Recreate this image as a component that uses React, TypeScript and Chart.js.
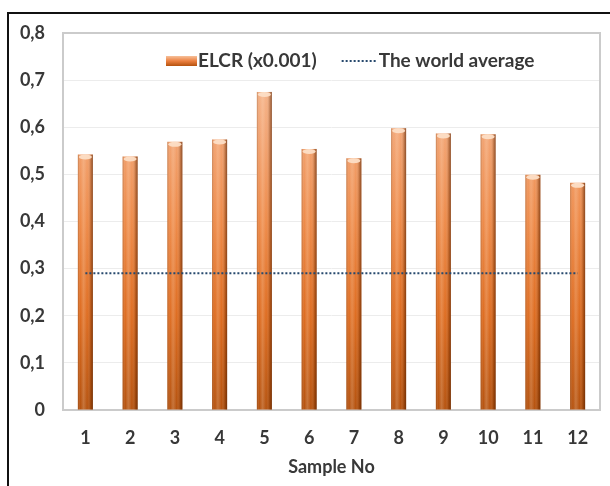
import React, { useEffect, useRef } from 'react';
import { Chart, registerables } from 'chart.js';

Chart.register(...registerables);

// Sample numbers along the x axis
const sampleNos = ['1', '2', '3', '4', '5', '6', '7', '8', '9', '10', '11', '12'];

// Excess lifetime cancer risk per sample (x0.001)
const elcrValues = [0.542, 0.538, 0.569, 0.574, 0.675, 0.554, 0.534, 0.598, 0.587, 0.585, 0.499, 0.482];

// World average ELCR (x0.001), one point per sample
const worldAverageValues = [0.29, 0.29, 0.29, 0.29, 0.29, 0.29, 0.29, 0.29, 0.29, 0.29, 0.29, 0.29];

// Y axis tick labels (comma decimal separator)
const yTickLabels = ['0', '0,1', '0,2', '0,3', '0,4', '0,5', '0,6', '0,7', '0,8'];

const seriesLabels = ['ELCR (x0.001)', 'The world average'];
const axisTitle = 'Sample No';

const FONT = 'Lato, "Open Sans", sans-serif';
const TEXT_COLOR = '#383838';
const LINE_COLOR = '#27496d';

function barGradient(ctx: CanvasRenderingContext2D, top: number, bottom: number) {
  const g = ctx.createLinearGradient(0, bottom, 0, top);
  g.addColorStop(0, '#b5520e');
  g.addColorStop(0.25, '#de6c20');
  g.addColorStop(0.5, '#ee8a48');
  g.addColorStop(0.75, '#f3a676');
  g.addColorStop(1, '#f8c6a2');
  return g;
}

// Gives each bar a rounded, cylinder-like shading
const barShading = {
  id: 'barShading',
  afterDatasetDraw(chart: any, args: any) {
    if (chart.data.datasets[args.index].type !== 'bar') return;
    const ctx = chart.ctx as CanvasRenderingContext2D;
    ctx.save();
    args.meta.data.forEach((bar: any) => {
      const { x, y, base, width } = bar.getProps(['x', 'y', 'base', 'width'], true);
      const left = x - width / 2;
      const g = ctx.createLinearGradient(left, 0, left + width, 0);
      g.addColorStop(0, 'rgba(110,45,0,0.35)');
      g.addColorStop(0.18, 'rgba(255,255,255,0)');
      g.addColorStop(0.38, 'rgba(255,235,215,0.22)');
      g.addColorStop(0.62, 'rgba(255,255,255,0)');
      g.addColorStop(0.85, 'rgba(90,35,0,0.28)');
      g.addColorStop(1, 'rgba(70,25,0,0.6)');
      ctx.fillStyle = g;
      ctx.fillRect(left, y, width, base - y);
      // light cap at the top of the bar
      ctx.beginPath();
      ctx.ellipse(x, y + 2.5, width / 2 - 1, 2.5, 0, 0, Math.PI * 2);
      ctx.fillStyle = 'rgba(252,222,198,0.95)';
      ctx.fill();
    });
    ctx.restore();
  },
};

// Grey frame round the plot area
const plotFrame = {
  id: 'plotFrame',
  beforeDatasetsDraw(chart: any) {
    const { ctx, chartArea } = chart;
    ctx.save();
    ctx.strokeStyle = '#cbcbcb';
    ctx.lineWidth = 2;
    ctx.strokeRect(chartArea.left, chartArea.top, chartArea.right - chartArea.left, chartArea.bottom - chartArea.top);
    ctx.restore();
  },
};

// Legend drawn inside the plot area, near the top
const insideLegend = {
  id: 'insideLegend',
  afterDraw(chart: any) {
    const { ctx, chartArea } = chart;
    const ds = chart.data.datasets;
    const cy = chartArea.top + 28;
    let x = chartArea.left + 103;
    ctx.save();
    // bar swatch
    const sw = ctx.createLinearGradient(0, cy - 5, 0, cy + 5);
    sw.addColorStop(0, '#f6c09a');
    sw.addColorStop(0.5, '#ec8040');
    sw.addColorStop(1, '#b5520e');
    ctx.fillStyle = sw;
    ctx.fillRect(x, cy - 5, 31, 10);
    x += 32;
    ctx.font = `bold 19px ${FONT}`;
    ctx.fillStyle = TEXT_COLOR;
    ctx.textBaseline = 'middle';
    ctx.textAlign = 'left';
    ctx.fillText(ds[0].label, x, cy);
    x += ctx.measureText(ds[0].label).width + 25;
    // dotted line swatch
    ctx.strokeStyle = LINE_COLOR;
    ctx.lineWidth = 2;
    ctx.setLineDash([2, 2]);
    ctx.beginPath();
    ctx.moveTo(x, cy);
    ctx.lineTo(x + 34, cy);
    ctx.stroke();
    ctx.setLineDash([]);
    x += 37;
    ctx.fillText(ds[1].label, x, cy);
    ctx.restore();
  },
};

export default function App() {
  const canvasRef = useRef<HTMLCanvasElement | null>(null);

  useEffect(() => {
    const canvas = canvasRef.current;
    if (!canvas) return;
    const chart = new Chart(canvas, {
      type: 'bar',
      data: {
        labels: sampleNos,
        datasets: [
          {
            type: 'line',
            label: seriesLabels[1],
            data: worldAverageValues,
            borderColor: LINE_COLOR,
            borderWidth: 2,
            borderDash: [2, 2],
            pointRadius: 0,
            fill: false,
            order: 0,
          } as any,
          {
            type: 'bar',
            label: seriesLabels[0],
            data: elcrValues,
            backgroundColor: (c: any) => {
              const area = c.chart.chartArea;
              if (!area) return '#ed7d31';
              return barGradient(c.chart.ctx, area.top, area.bottom);
            },
            borderWidth: 0,
            barPercentage: 0.335,
            categoryPercentage: 1,
            order: 1,
          } as any,
        ].reverse(),
      },
      options: {
        responsive: false,
        animation: false,
        devicePixelRatio: 1,
        layout: { padding: { top: 33, right: 10, bottom: 0, left: 0 } },
        plugins: {
          legend: { display: false },
          tooltip: { enabled: false },
        },
        scales: {
          x: {
            type: 'category',
            grid: { display: false, drawTicks: false },
            border: { display: false },
            ticks: {
              color: TEXT_COLOR,
              font: { family: FONT, size: 18, weight: 'bold' },
              padding: 17,
              maxRotation: 0,
            },
            title: {
              display: true,
              text: axisTitle,
              color: TEXT_COLOR,
              font: { family: FONT, size: 18, weight: 'bold' },
              padding: { top: 0, bottom: 8 },
            },
            afterFit: (s: any) => {
              s.height = 76;
            },
          },
          y: {
            min: 0,
            max: 0.8,
            grid: { color: '#ececec', lineWidth: 1, drawTicks: false },
            border: { display: false },
            ticks: {
              stepSize: 0.1,
              color: TEXT_COLOR,
              font: { family: FONT, size: 18, weight: 'bold' },
              padding: 18,
              callback: (_v: any, i: number) => yTickLabels[i],
            },
            afterFit: (s: any) => {
              s.width = 63;
            },
          },
        },
      },
      plugins: [plotFrame, barShading, insideLegend],
    });
    return () => chart.destroy();
  }, []);

  return (
    <div style={{ position: 'fixed', left: 0, top: 0, width: 610, height: 486, background: '#fff', overflow: 'hidden' }}>
      <canvas ref={canvasRef} width={610} height={486} style={{ position: 'absolute', left: 0, top: 0 }} />
      <div
        style={{
          position: 'absolute',
          left: 7,
          top: 12,
          width: 700,
          height: 600,
          borderLeft: '2px solid #111',
          borderTop: '2px solid #111',
          pointerEvents: 'none',
        }}
      />
    </div>
  );
}
